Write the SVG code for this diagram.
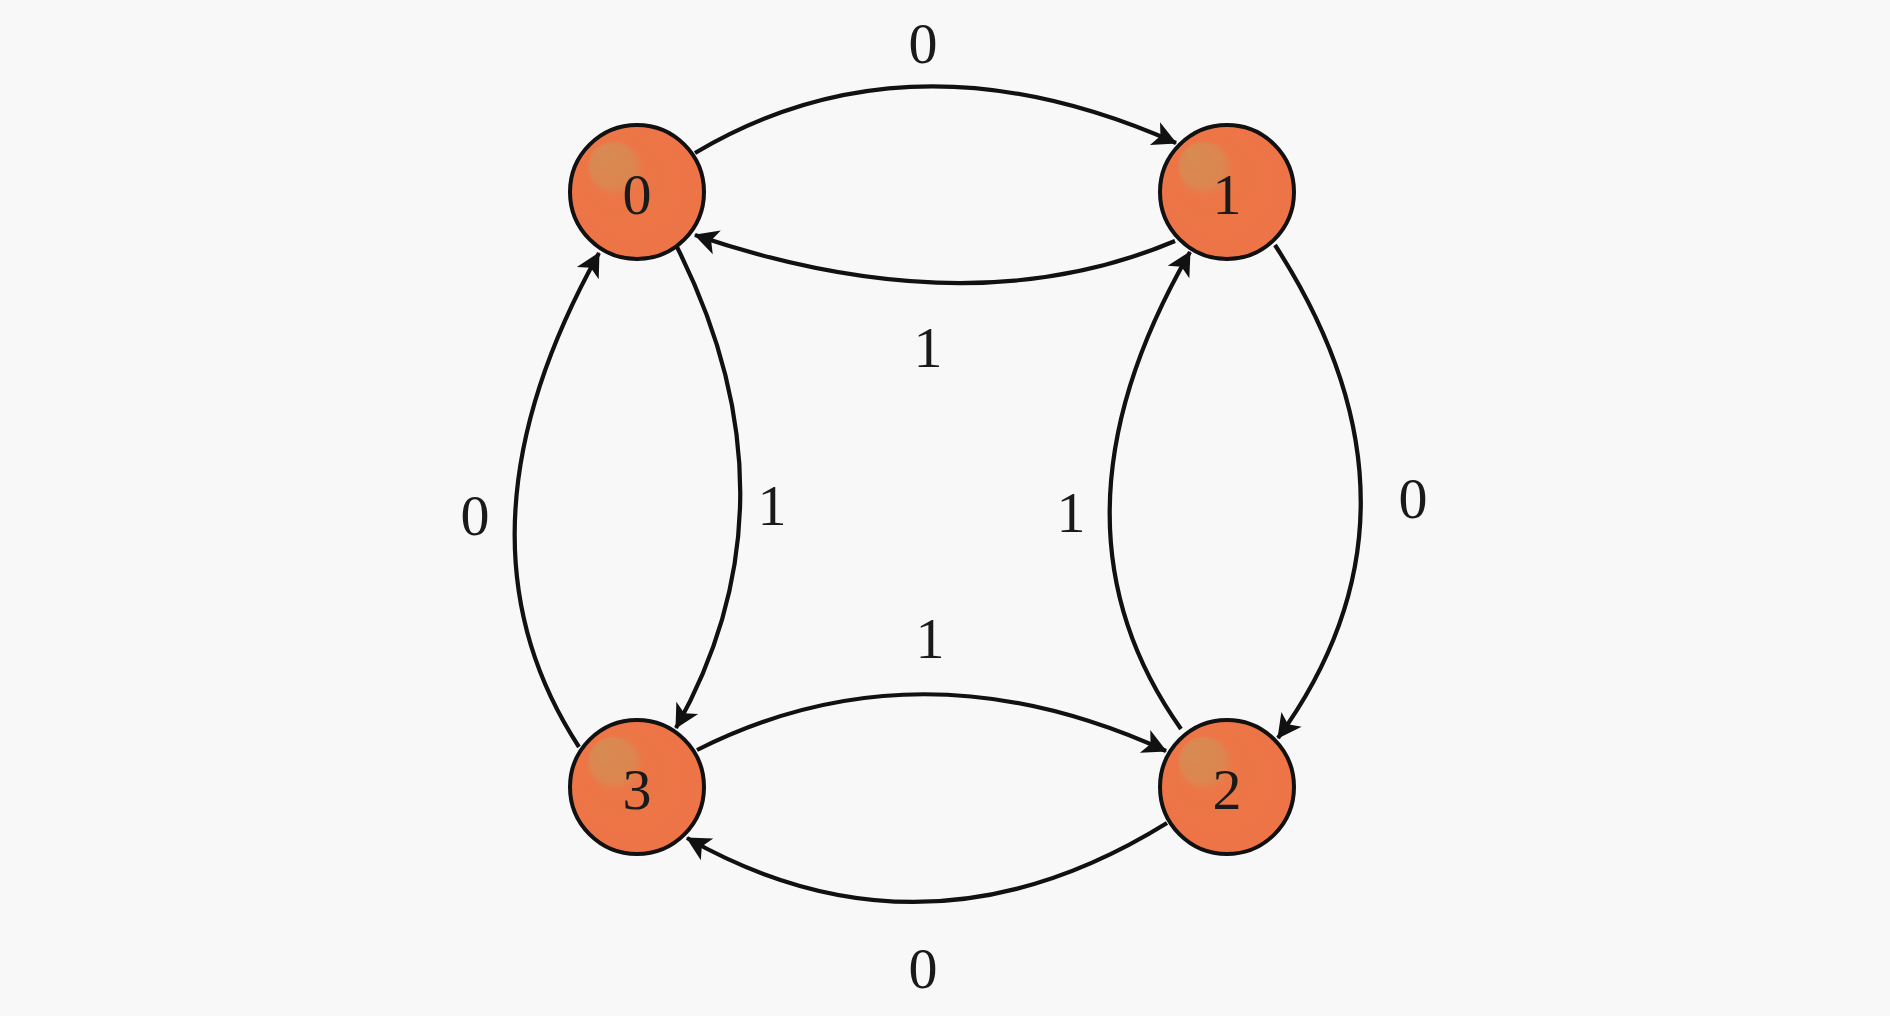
<svg xmlns="http://www.w3.org/2000/svg" width="1890" height="1016" viewBox="0 0 1890 1016">
<style>
.node circle{stroke:#111;stroke-width:4;fill:url(#ball)}
.lbl{font-family:"Liberation Serif",serif;font-size:58px;fill:#1a1a1a;text-anchor:middle}
.edge{fill:none;stroke:#111;stroke-width:4.2;marker-end:url(#arr)}
</style>
<defs>
<radialGradient id="ball" cx="0.5" cy="0.5" r="0.5" fx="0.22" fy="0.2">
<stop offset="0" stop-color="#D78B52"/>
<stop offset="0.32" stop-color="#DC8650"/>
<stop offset="0.42" stop-color="#EC7647"/>
<stop offset="1" stop-color="#EE7446"/>
</radialGradient>
<marker id="arr" markerUnits="userSpaceOnUse" markerWidth="30" markerHeight="30" viewBox="-28 -15 30 30" refX="0" refY="0" orient="auto">
<path d="M1,0 L-23,-12.5 L-17,0 L-23,12.5 Z" fill="#111"/>
</marker>
</defs>
<rect width="1890" height="1016" fill="#F8F8F8"/>
<g id="edges">
<path class="edge" d="M695,153 Q910,25 1176,143"/>
<path class="edge" d="M1175,241 Q969,328 695,235"/>
<path class="edge" d="M677,247 Q804,500 676,728"/>
<path class="edge" d="M579,747 Q441,536 599,253"/>
<path class="edge" d="M1275,245 Q1445,508 1278,738"/>
<path class="edge" d="M1181,729 Q1034,522 1190,252"/>
<path class="edge" d="M697,750 Q919,638 1166,751"/>
<path class="edge" d="M1167,823 Q925,973 687,838"/>
<text class="lbl" x="923" y="63">0</text>
<text class="lbl" x="928" y="367">1</text>
<text class="lbl" x="475" y="535">0</text>
<text class="lbl" x="772" y="525">1</text>
<text class="lbl" x="1071" y="532">1</text>
<text class="lbl" x="1413" y="518">0</text>
<text class="lbl" x="930" y="658">1</text>
<text class="lbl" x="923" y="988">0</text>
</g>
<g id="node0" class="node"><circle cx="637" cy="192" r="67"/><text class="lbl" x="637" y="214">0</text></g>
<g id="node1" class="node"><circle cx="1227" cy="192" r="67"/><text class="lbl" x="1227" y="214">1</text></g>
<g id="node2" class="node"><circle cx="1227" cy="787" r="67"/><text class="lbl" x="1227" y="809">2</text></g>
<g id="node3" class="node"><circle cx="637" cy="787" r="67"/><text class="lbl" x="637" y="809">3</text></g>
</svg>
